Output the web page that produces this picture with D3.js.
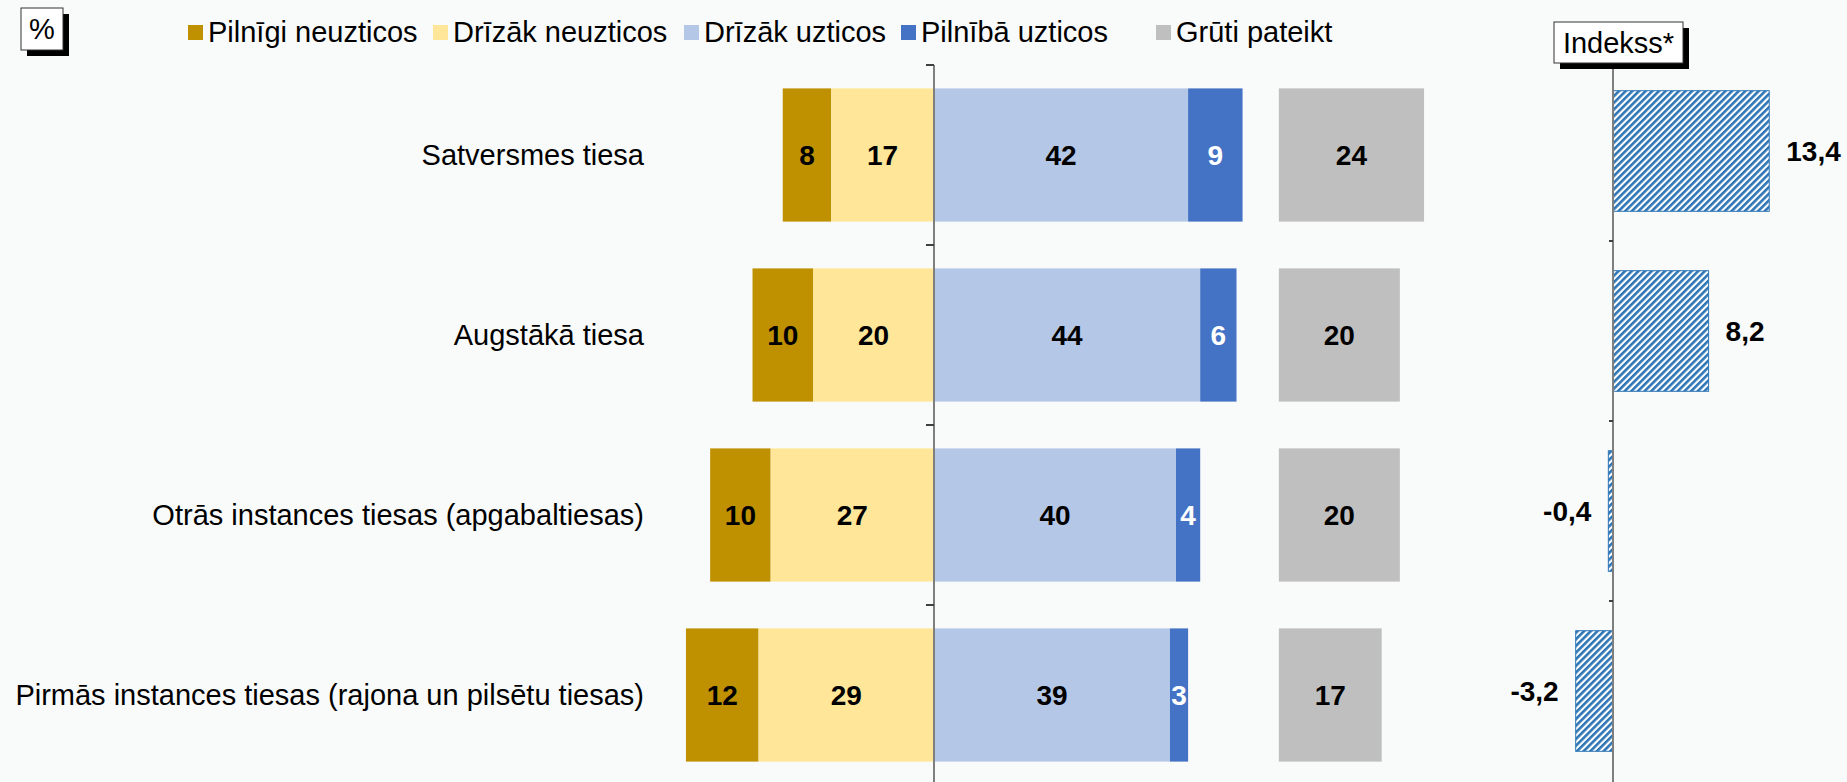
<!DOCTYPE html>
<html>
<head>
<meta charset="utf-8">
<script src="https://cdn.jsdelivr.net/npm/d3@7"></script>
<style>
  html, body { margin: 0; padding: 0; background: #f9fafa; }
  svg { display: block; font-family: "Liberation Sans", Arial, sans-serif; }
</style>
</head>
<body>
<script>
// data
var categories = [
    "Satversmes tiesa",
    "Augstākā tiesa",
    "Otrās instances tiesas (apgabaltiesas)",
    "Pirmās instances tiesas (rajona un pilsētu tiesas)"
];
var fullyDistrust = [8, 10, 10, 12];
var ratherDistrust = [17, 20, 27, 29];
var ratherTrust = [42, 44, 40, 39];
var fullyTrust = [9, 6, 4, 3];
var hardToSay = [24, 20, 20, 17];
var indexValues = [13.4, 8.2, -0.4, -3.2];
var indexLabels = ["13,4", "8,2", "-0,4", "-3,2"];
var legendNames = ["Pilnīgi neuzticos", "Drīzāk neuzticos", "Drīzāk uzticos", "Pilnībā uzticos", "Grūti pateikt"];

var colors = ["#bf9000", "#ffe699", "#b4c7e7", "#4472c4", "#bfbfbf"];
var hatchBlue = "#2e75b6";

var width = 1847;
var height = 782;
var greyStart = 57; // grey "hard to say" bars sit apart on the same scale
var fontSize = 29;

var svg = d3.select("body")
    .append("svg")
    .attr("width", width)
    .attr("height", height);

svg.append("rect")
    .attr("width", width)
    .attr("height", height)
    .attr("fill", "#f9fafa");

var defs = svg.append("defs");
var pat = defs.append("pattern")
    .attr("id", "hatch")
    .attr("patternUnits", "userSpaceOnUse")
    .attr("width", 4.7)
    .attr("height", 4.7)
    .attr("patternTransform", "rotate(45)");
pat.append("rect").attr("width", 4.7).attr("height", 4.7).attr("fill", "#ffffff");
pat.append("rect").attr("width", 2.6).attr("height", 4.7).attr("fill", hatchBlue);

// scales
var ppu = 6.05;
var zeroX = 934;
var x = d3.scaleLinear()
    .domain([-50, 100])
    .range([zeroX - 50 * ppu, zeroX + 100 * ppu]);

var y = d3.scaleBand()
    .domain(categories)
    .range([65, 785])
    .paddingInner(0.26)
    .paddingOuter(0.13);

var ix = d3.scaleLinear()
    .domain([-5, 15])
    .range([1613 - 5 * 11.66, 1613 + 15 * 11.66]);

var iy = d3.scaleBand()
    .domain(categories)
    .range([61, 781])
    .paddingInner(0.33)
    .paddingOuter(0.165);

// build segments
var segments = [];
categories.forEach(function (c, i) {
    var a = fullyDistrust[i], b = ratherDistrust[i], cc = ratherTrust[i], d = fullyTrust[i], e = hardToSay[i];
    segments.push({ cat: c, x0: -(a + b), x1: -b, v: a, k: 0 });
    segments.push({ cat: c, x0: -b, x1: 0, v: b, k: 1 });
    segments.push({ cat: c, x0: 0, x1: cc, v: cc, k: 2 });
    segments.push({ cat: c, x0: cc, x1: cc + d, v: d, k: 3 });
    segments.push({ cat: c, x0: greyStart, x1: greyStart + e, v: e, k: 4 });
});

var chart = svg.append("g");

chart.selectAll("rect.seg")
    .data(segments)
    .enter()
    .append("rect")
    .attr("class", "seg")
    .attr("x", function (d) { return x(d.x0); })
    .attr("width", function (d) { return x(d.x1) - x(d.x0); })
    .attr("y", function (d) { return y(d.cat); })
    .attr("height", y.bandwidth())
    .attr("fill", function (d) { return colors[d.k]; });

chart.selectAll("text.val")
    .data(segments)
    .enter()
    .append("text")
    .attr("class", "val")
    .attr("x", function (d) { return (x(d.x0) + x(d.x1)) / 2; })
    .attr("y", function (d) { return y(d.cat) + y.bandwidth() / 2; })
    .attr("dy", "0.36em")
    .attr("text-anchor", "middle")
    .attr("font-size", 28)
    .attr("font-weight", "bold")
    .attr("fill", function (d) { return d.k == 3 ? "#ffffff" : "#000000"; })
    .text(function (d) { return d.v; });

// category axis at zero
var step = y.step();
var r = y.range();
chart.append("line")
    .attr("x1", x(0)).attr("x2", x(0))
    .attr("y1", r[0]).attr("y2", r[1])
    .attr("stroke", "#7f7f7f")
    .attr("stroke-width", 2);
chart.selectAll("line.tk")
    .data(d3.range(categories.length + 1))
    .enter()
    .append("line")
    .attr("class", "tk")
    .attr("x1", x(0) - 8).attr("x2", x(0))
    .attr("y1", function (i) { return r[0] + i * step; })
    .attr("y2", function (i) { return r[0] + i * step; })
    .attr("stroke", "#404040")
    .attr("stroke-width", 2);

chart.selectAll("text.cat")
    .data(categories)
    .enter()
    .append("text")
    .attr("class", "cat")
    .attr("x", 644)
    .attr("y", function (d) { return y(d) + y.bandwidth() / 2; })
    .attr("dy", "0.36em")
    .attr("text-anchor", "end")
    .attr("font-size", fontSize)
    .attr("fill", "#000")
    .text(function (d) { return d; });

// index chart
var ir = iy.range();
chart.selectAll("rect.idx")
    .data(indexValues)
    .enter()
    .append("rect")
    .attr("class", "idx")
    .attr("x", function (d) { return ix(Math.min(0, d)); })
    .attr("width", function (d) { return Math.abs(ix(d) - ix(0)); })
    .attr("y", function (d, i) { return iy(categories[i]); })
    .attr("height", iy.bandwidth())
    .attr("fill", "url(#hatch)")
    .attr("stroke", hatchBlue)
    .attr("stroke-width", 1);

chart.append("line")
    .attr("x1", ix(0)).attr("x2", ix(0))
    .attr("y1", ir[0]).attr("y2", height)
    .attr("stroke", "#7f7f7f")
    .attr("stroke-width", 2);
chart.selectAll("line.itk")
    .data(d3.range(1, categories.length))
    .enter()
    .append("line")
    .attr("class", "itk")
    .attr("x1", ix(0) - 4).attr("x2", ix(0))
    .attr("y1", function (i) { return ir[0] + i * iy.step(); })
    .attr("y2", function (i) { return ir[0] + i * iy.step(); })
    .attr("stroke", "#404040")
    .attr("stroke-width", 2);

chart.selectAll("text.ival")
    .data(indexValues)
    .enter()
    .append("text")
    .attr("class", "ival")
    .attr("x", function (d) { return d >= 0 ? ix(d) + 17 : ix(d) - 17; })
    .attr("y", function (d, i) { return iy(categories[i]) + iy.bandwidth() / 2; })
    .attr("dy", "0.36em")
    .attr("text-anchor", function (d) { return d >= 0 ? "start" : "end"; })
    .attr("font-size", 28)
    .attr("font-weight", "bold")
    .text(function (d, i) { return indexLabels[i]; });

// boxed labels with shadow
function shadowBox(x0, y0, w, h, label) {
    var g = svg.append("g");
    g.append("rect").attr("x", x0 + 6).attr("y", y0 + 6).attr("width", w).attr("height", h).attr("fill", "#000");
    g.append("rect").attr("x", x0).attr("y", y0).attr("width", w).attr("height", h)
        .attr("fill", "#fff").attr("stroke", "#333").attr("stroke-width", 1);
    g.append("text")
        .attr("x", x0 + w / 2)
        .attr("y", y0 + h / 2)
        .attr("dy", "0.36em")
        .attr("text-anchor", "middle")
        .attr("font-size", fontSize)
        .text(label);
}
shadowBox(21, 8, 42, 42, "%");
shadowBox(1554, 22, 129, 41, "Indekss*");

// legend
var legendX = [188, 433, 684, 901, 1156];
var legend = svg.selectAll("g.leg")
    .data(legendNames)
    .enter()
    .append("g")
    .attr("class", "leg")
    .attr("transform", function (d, i) { return "translate(" + legendX[i] + ",32)"; });
legend.append("rect")
    .attr("x", 0)
    .attr("y", -7)
    .attr("width", 15)
    .attr("height", 15)
    .attr("fill", function (d, i) { return colors[i]; });
legend.append("text")
    .attr("x", 20)
    .attr("y", 0)
    .attr("dy", "0.36em")
    .attr("font-size", fontSize)
    .text(function (d) { return d; });
</script>
</body>
</html>
